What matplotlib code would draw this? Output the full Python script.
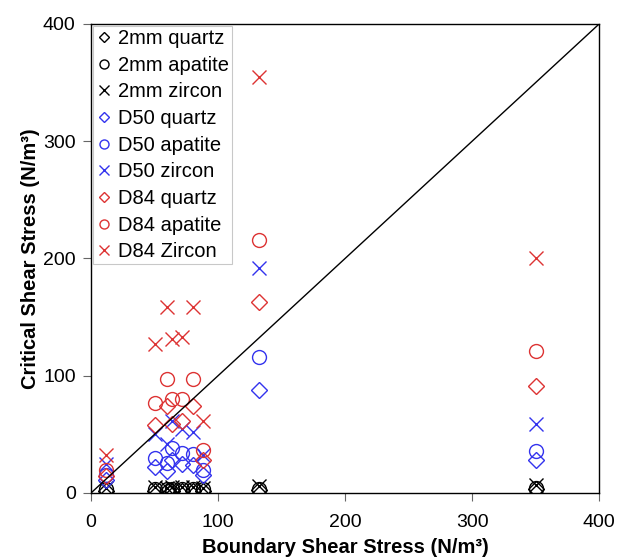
import matplotlib
matplotlib.use('Agg')
import matplotlib.pyplot as plt

plt.rcParams['font.family'] = ['Liberation Sans', 'DejaVu Sans']

# boundary shear stress for each station (N/m3)
tau_b = [12, 50, 60, 64, 72, 80, 88, 132, 350]

# critical shear stress, 2mm grains
mm2_quartz  = [2, 2, 2, 2, 2, 2, 2, 2.5, 3]
mm2_apatite = [3, 3, 3, 3, 3, 3, 3, 3.5, 4]
mm2_zircon  = [4.5, 5, 4.5, 5, 5, 5, 4.5, 6, 7]

# D50 grains
d50_quartz  = [11, 22, 19, 28, 25, 24, 15, 88, 28]
d50_apatite = [15, 30, 26, 38, 34, 33, 20, 116, 36]
d50_zircon  = [25, 50, 42, 61, 55, 52, 32, 192, 59]

# D84 grains
d84_quartz  = [14.5, 58, 74, 59, 61, 74, 28, 163, 91]
d84_apatite = [20, 77, 97, 80, 80, 97, 37, 216, 121]
d84_zircon  = [32, 127, 159, 131, 133, 159, 61, 355, 200]

RED  = '#dd3333'
BLUE = '#3333ee'

series = [
    (mm2_quartz,  'D', 'black', '2mm quartz'),
    (mm2_apatite, 'o', 'black', '2mm apatite'),
    (mm2_zircon,  'x', 'black', '2mm zircon'),
    (d50_quartz,  'D', BLUE,    'D50 quartz'),
    (d50_apatite, 'o', BLUE,    'D50 apatite'),
    (d50_zircon,  'x', BLUE,    'D50 zircon'),
    (d84_quartz,  'D', RED,     'D84 quartz'),
    (d84_apatite, 'o', RED,     'D84 apatite'),
    (d84_zircon,  'x', RED,     'D84 Zircon'),
]

fig = plt.figure(figsize=(6.17, 5.58), dpi=100)
ax = fig.add_axes([0.1475, 0.1165, 0.8235, 0.8405])

for vals, mk, col, lab in series:
    ms = {'D': 8, 'o': 10, 'x': 10}[mk]
    ax.plot(tau_b, vals, ls='none', marker=mk, ms=ms, mfc='none',
            mec=col, mew=1.0, label=lab)

ax.plot([0, 400], [0, 400], color='black', lw=1.0)

ax.set_xlim(0, 400)
ax.set_ylim(0, 400)
ax.set_xticks([0, 100, 200, 300, 400])
ax.set_yticks([0, 100, 200, 300, 400])
ax.tick_params(labelsize=14, length=6, width=0.8, colors='#666666',
               labelcolor='black')
ax.tick_params(axis='x', pad=9)
ax.tick_params(axis='y', pad=5)
for s in ax.spines.values():
    s.set_linewidth(1.0)

ax.set_xlabel('Boundary Shear Stress (N/m³)', fontsize=14.5, fontweight='bold',
              labelpad=5)
ax.set_ylabel('Critical Shear Stress (N/m³)', fontsize=14.5, fontweight='bold',
              labelpad=2)

leg = ax.legend(loc='upper left', fontsize=14.5, frameon=True, fancybox=False,
                borderaxespad=0.1, handlelength=0.8, handletextpad=0.3,
                labelspacing=0.38, borderpad=0.15, markerscale=0.65)
leg.get_frame().set_edgecolor('#bbbbbb')
leg.get_frame().set_linewidth(0.8)

plt.savefig('out.png', dpi=100)
plt.close()
